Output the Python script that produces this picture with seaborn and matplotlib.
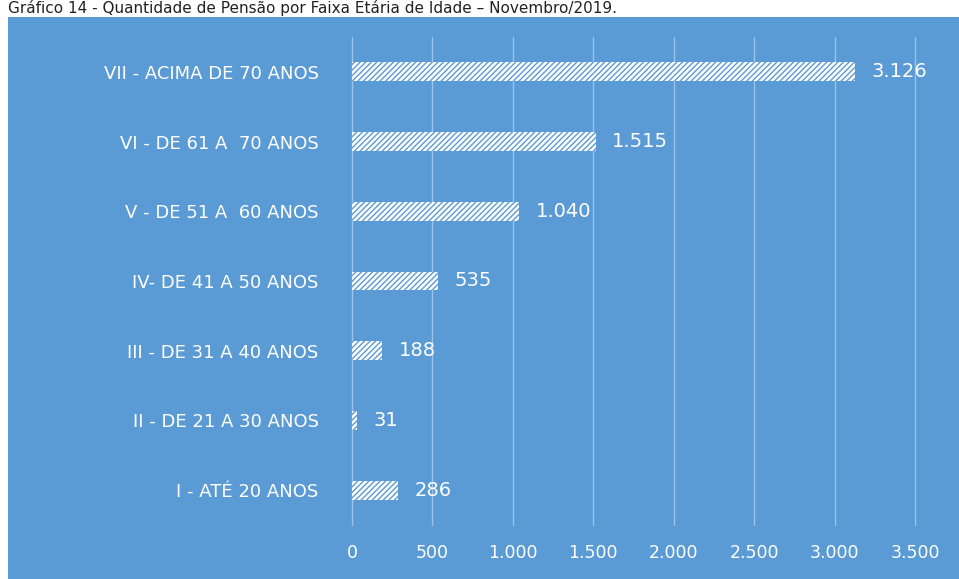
import matplotlib
matplotlib.use("Agg")
import matplotlib.pyplot as plt
from matplotlib.patches import Rectangle
from matplotlib.ticker import FuncFormatter
import pandas as pd
import seaborn as sns

# dados
faixas = ["VII - ACIMA DE 70 ANOS", "VI - DE 61 A  70 ANOS", "V - DE 51 A  60 ANOS",
          "IV- DE 41 A 50 ANOS", "III - DE 31 A 40 ANOS", "II - DE 21 A 30 ANOS",
          "I - ATÉ 20 ANOS"]
pensoes = [3126, 1515, 1040, 535, 188, 31, 286]
titulo = "Gráfico 14 - Quantidade de Pensão por Faixa Etária de Idade – Novembro/2019."

azul = "#5B9BD5"
df = pd.DataFrame({"faixa": faixas, "qtd": pensoes})

sns.set_style("white")
plt.rcParams["font.family"] = ["DejaVu Sans"]
plt.rcParams["hatch.linewidth"] = 1.0

W, H = 959, 579
fig = plt.figure(figsize=(W / 100, H / 100), dpi=100, facecolor="white")
fig.patches.append(Rectangle((8 / W, 0), 1, (H - 17) / H, transform=fig.transFigure,
                             facecolor=azul, edgecolor="none", zorder=-10))
fig.text(8 / W, 1 - 8 / H, titulo, fontsize=11, color="#222222", va="center", ha="left")

ax = fig.add_axes([352 / W, 1 - 525 / H, (915 - 352) / W, (525 - 37) / H])
ax.set_facecolor(azul)
sns.barplot(data=df, x="qtd", y="faixa", orient="h", ax=ax, width=0.27,
            color="white", edgecolor=azul, linewidth=0, hatch="//////")

ax.set_xlim(0, 3500)
ax.set_xticks(range(0, 3501, 500))
fmt = lambda v, p: f"{int(v):,}".replace(",", ".")
ax.xaxis.set_major_formatter(FuncFormatter(fmt))
ax.grid(axis="x", color="#9CC2E8", linewidth=1)
ax.set_axisbelow(True)
for gl in ax.get_xgridlines():
    gl.set_clip_on(False)
for s in ax.spines.values():
    s.set_visible(False)
ax.set_xlabel("")
ax.set_ylabel("")
ax.tick_params(axis="x", colors="white", labelsize=12.5, length=0, pad=14)
ax.tick_params(axis="y", colors="white", labelsize=13, length=0, pad=24)

ax.bar_label(ax.containers[0], labels=[fmt(v, None) for v in pensoes],
             padding=12, color="white", fontsize=14)

fig.savefig("out.png", dpi=100, facecolor="white")
